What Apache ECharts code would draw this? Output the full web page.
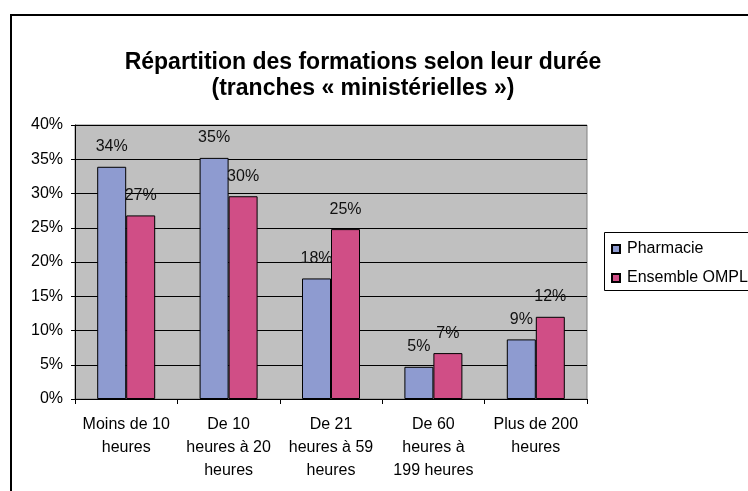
<!DOCTYPE html>
<html>
<head>
<meta charset="utf-8">
<script src="https://cdn.jsdelivr.net/npm/echarts@6/dist/echarts.min.js"></script>
<style>
  html, body { margin: 0; padding: 0; background: #fff; }
  #chart { width: 748px; height: 491px; }
</style>
</head>
<body>
<div id="chart"></div>
<script>
var categories = ['Moins de 10\nheures', 'De 10\nheures à 20\nheures', 'De 21\nheures à 59\nheures', 'De 60\nheures à\n199 heures', 'Plus de 200\nheures'];
var pharmacie = [33.9, 35.2, 17.6, 4.7, 8.7];
var ensembleOmpl = [26.8, 29.6, 24.8, 6.7, 12.0];
var yTicks = { min: 0, max: 40, step: 5 };

var myChart = echarts.init(document.getElementById('chart'));
var font = 'Arial, "Liberation Sans", sans-serif';

var barLabel = {
    show: true,
    position: 'top',
    distance: 12,
    fontFamily: font,
    fontSize: 16,
    color: '#111',
    formatter: function (p) { return Math.round(p.value) + '%'; }
};

option = {
    backgroundColor: '#ffffff',
    animation: false,
    title: {
        text: 'Répartition des formations selon leur durée\n(tranches « ministérielles »)',
        left: 358,
        textAlign: 'center',
        top: 45,
        textStyle: {
            fontFamily: font,
            fontSize: 23,
            fontWeight: 'bold',
            color: '#000',
            lineHeight: 26
        }
    },
    graphic: [
        // outer frame of the chart object
        { type: 'rect', shape: { x: 11, y: 15, width: 800, height: 600 },
          style: { fill: 'none', stroke: '#000', lineWidth: 2 }, z: 10 },
        // legend box
        { type: 'rect', shape: { x: 604.5, y: 232.5, width: 200, height: 58 },
          style: { fill: '#fff', stroke: '#000', lineWidth: 1 }, z: 1 }
    ],
    legend: {
        orient: 'vertical',
        left: 611,
        top: 240,
        icon: 'rect',
        itemWidth: 8,
        itemHeight: 8,
        itemGap: 11,
        padding: 0,
        z: 5,
        textStyle: { fontFamily: font, fontSize: 16, color: '#000', lineHeight: 18, padding: [0, 0, 0, 2] },
        data: ['Pharmacie', 'Ensemble OMPL']
    },
    grid: {
        left: 75,
        top: 125,
        width: 512,
        height: 274,
        show: true,
        backgroundColor: '#c0c0c0',
        borderColor: '#808080',
        borderWidth: 1
    },
    xAxis: [{
        type: 'category',
        data: categories,
        axisLine: { lineStyle: { color: '#000', width: 1 } },
        axisTick: { show: true, length: 5, lineStyle: { color: '#000' } },
        axisLabel: {
            interval: 0,
            margin: 14,
            fontFamily: font,
            fontSize: 16,
            lineHeight: 23,
            color: '#000'
        }
    }],
    yAxis: [{
        type: 'value',
        min: yTicks.min,
        max: yTicks.max,
        interval: yTicks.step,
        axisLine: { show: true, lineStyle: { color: '#000', width: 1 } },
        axisTick: { show: true, length: 4, lineStyle: { color: '#000' } },
        splitLine: { show: true, lineStyle: { color: '#000', width: 1 } },
        axisLabel: {
            margin: 12,
            fontFamily: font,
            fontSize: 16,
            color: '#000',
            formatter: '{value}%'
        }
    }],
    series: [{
        name: 'Pharmacie',
        type: 'bar',
        barWidth: 29,
        barGap: '0%',
        data: pharmacie,
        itemStyle: { color: '#8e9bd0', borderColor: '#000', borderWidth: 1 },
        label: barLabel
    }, {
        name: 'Ensemble OMPL',
        type: 'bar',
        barWidth: 29,
        barGap: '0%',
        data: ensembleOmpl,
        itemStyle: { color: '#d04e86', borderColor: '#000', borderWidth: 1 },
        label: barLabel
    }]
};

myChart.setOption(option);
</script>
</body>
</html>
